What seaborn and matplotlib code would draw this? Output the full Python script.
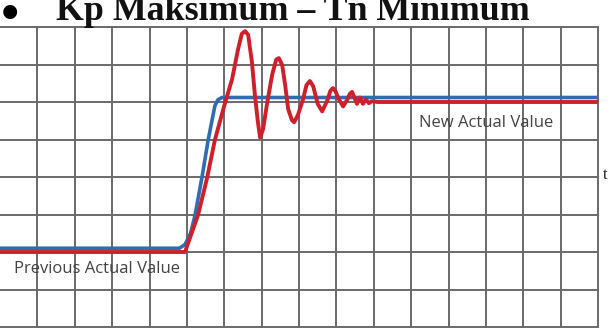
import matplotlib
matplotlib.use("Agg")
import matplotlib.pyplot as plt
import seaborn as sns
import pandas as pd

# Data (grid units: x = time cells, y = value cells)
red_x = [0.0, 4.95, 5.30, 5.54, 5.75, 6.00, 6.21, 6.37, 6.47, 6.56, 6.64, 6.74, 6.82, 6.90,
         6.96, 7.04, 7.14, 7.28, 7.39, 7.46, 7.55, 7.63, 7.71, 7.81, 7.87, 7.97, 8.11,
         8.20, 8.29, 8.38, 8.50, 8.62, 8.76, 8.84, 8.91, 8.98, 9.05, 9.18, 9.30, 9.36,
         9.42, 9.55, 9.63, 9.71, 9.79, 9.87, 9.95, 10.1, 16.0]
red_y = [2.0, 2.0, 2.99, 3.97, 4.99, 5.90, 6.61, 7.41, 7.82, 7.89, 7.79, 7.07, 6.19, 5.47,
         5.05, 5.28, 5.92, 6.72, 7.13, 7.17, 6.99, 6.45, 5.81, 5.52, 5.46, 5.65, 6.08,
         6.45, 6.56, 6.42, 5.95, 5.75, 6.05, 6.30, 6.37, 6.28, 6.10, 5.88, 6.08, 6.22,
         6.27, 5.95, 6.12, 5.95, 6.07, 5.97, 6.02, 6.0, 6.0]

blue_x = [0.0, 4.80, 4.95, 5.10, 5.22, 5.40, 5.57, 5.75, 5.83, 5.94, 16.0]
blue_y = [2.1, 2.1, 2.2, 2.5, 2.99, 3.97, 4.99, 5.90, 6.06, 6.12, 6.12]

title_text = "Kp Maksimum \u2013 Tn Minimum"
bullet = "\u2022"
label_new = "New Actual Value"
label_prev = "Previous Actual Value"
axis_t = "t"

sns.set_style("white")

fig = plt.figure(figsize=(6.11, 3.36), dpi=100)
W, H = 611, 336
ax = fig.add_axes([0, 9 / H, 598 / W, 300 / H])

df_blue = pd.DataFrame({"x": blue_x, "y": blue_y})
df_red = pd.DataFrame({"x": red_x, "y": red_y})

grid_col = "#6a6a6a"
for gx in range(1, 17):
    ax.axvline(gx, color=grid_col, lw=1.4, zorder=1, clip_on=False)
for gy in range(0, 9):
    ax.axhline(gy, color=grid_col, lw=1.4, zorder=1, clip_on=False)

sns.lineplot(data=df_blue, x="x", y="y", ax=ax, sort=False, color="#2e6db4", lw=2.6,
             zorder=3, estimator=None)
sns.lineplot(data=df_red, x="x", y="y", ax=ax, sort=False, color="#cf1f2b", lw=2.8,
             zorder=4, estimator=None)
for ln in ax.get_lines():
    ln.set_solid_joinstyle("round")
    ln.set_solid_capstyle("round")

ax.set_xlim(0, 16)
ax.set_ylim(0, 8)
for s in ax.spines.values():
    s.set_visible(False)
ax.set_xticks([])
ax.set_yticks([])
ax.set_xlabel("")
ax.set_ylabel("")

ax.text(13.0, 5.45, label_new, ha="center", va="center", fontsize=12,
        family="Open Sans", color="#444444", zorder=5)
ax.text(0.38, 1.55, label_prev, ha="left", va="center", fontsize=12,
        family="Open Sans", color="#444444", zorder=5)

fig.text(605 / W, 1 - 175 / H, axis_t, ha="center", va="center", fontsize=12,
         family="Liberation Serif", color="#222222")
fig.text(10 / W, 1 - 31 / H, bullet, ha="center", va="baseline", fontsize=42,
         family="Liberation Serif", color="#000000")
fig.text(56 / W, 1 - 20 / H, title_text, ha="left", va="baseline", fontsize=25.8,
         family="Liberation Serif", fontweight="bold", color="#111111")

fig.savefig("out.png", dpi=100)
